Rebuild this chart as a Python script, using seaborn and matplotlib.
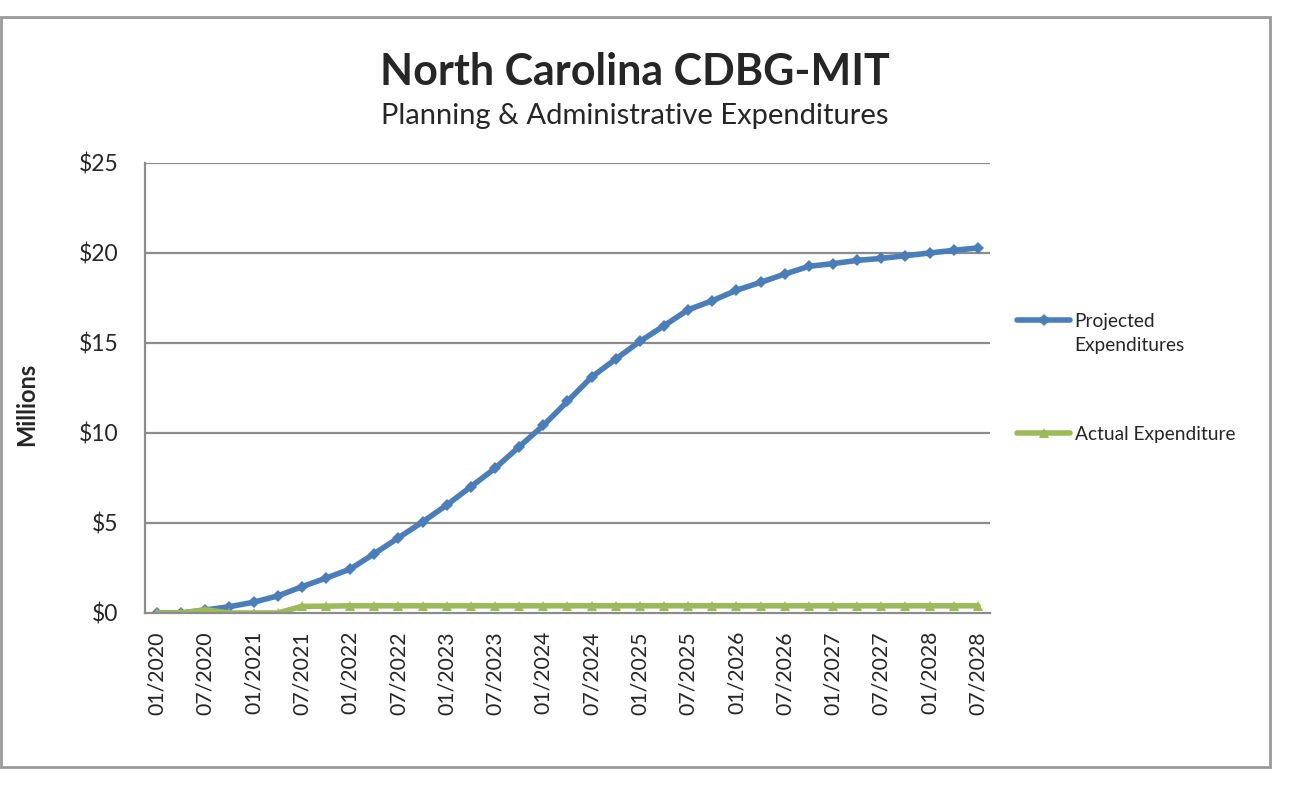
import numpy as np
import pandas as pd
import matplotlib.pyplot as plt
import matplotlib.patches as patches
import seaborn as sns

# quarterly reporting periods, 01/2020 .. 07/2028
quarters = pd.date_range('2020-01-01', periods=35, freq='QS').strftime('%m/%Y').tolist()

# cumulative expenditures, millions of dollars
projected = [0.0, 0.0, 0.17, 0.35, 0.6, 0.95, 1.46, 1.94, 2.44, 3.3,
             4.18, 5.06, 6.0, 7.02, 8.04, 9.24, 10.42, 11.76, 13.11, 14.11,
             15.09, 15.96, 16.85, 17.35, 17.93, 18.37, 18.83, 19.26, 19.41, 19.59,
             19.70, 19.85, 20.0, 20.15, 20.28]
actual = [0.0, 0.0, 0.18, 0.0, 0.0, 0.0, 0.37, 0.38, 0.4, 0.4,
          0.4, 0.4, 0.4, 0.4, 0.4, 0.4, 0.4, 0.4, 0.4, 0.4,
          0.4, 0.4, 0.4, 0.4, 0.4, 0.4, 0.4, 0.4, 0.4, 0.4,
          0.4, 0.4, 0.4, 0.4, 0.4]

proj_name = 'Projected\nExpenditures'
act_name = 'Actual Expenditure'

df = pd.DataFrame({
    'pos': list(range(len(quarters))) * 2,
    'value': projected + actual,
    'series': [proj_name] * len(projected) + [act_name] * len(actual),
})

sns.set_style('white')
plt.rcParams['font.family'] = ['Lato', 'DejaVu Sans']

fig = plt.figure(figsize=(12.97, 7.89), dpi=100)
ax = fig.add_axes([145 / 1297, 1 - 613 / 789, 845 / 1297, 450 / 789])

grid_c = '#8c8c8c'
for v in [5, 10, 15, 20, 25]:
    ax.axhline(v, color=grid_c, lw=1.6, zorder=0)

sns.lineplot(data=df, x='pos', y='value', hue='series', style='series',
             palette={proj_name: '#4a7ebb', act_name: '#9bbb59'},
             markers={proj_name: 'D', act_name: '^'}, dashes=False,
             lw=4, markersize=6.5, markeredgewidth=0, ax=ax, legend=True)

ax.set_xlim(-0.5, len(quarters) - 0.5)
ax.set_ylim(0, 25)
ax.set_yticks([0, 5, 10, 15, 20, 25])
ax.set_yticklabels(['$0', '$5', '$10', '$15', '$20', '$25'])
ax.set_xticks(range(0, len(quarters), 2))
ax.set_xticklabels(quarters[::2], rotation=90)
ax.tick_params(axis='y', length=0, pad=19, labelsize=16.5)
ax.tick_params(axis='x', length=0, pad=13, labelsize=15.3)
ax.set_xlabel('')
ax.set_ylabel('')
for side in ['top', 'right']:
    ax.spines[side].set_visible(False)
for side in ['left', 'bottom']:
    ax.spines[side].set_color(grid_c)
    ax.spines[side].set_linewidth(1.6)

# legend on the right, handle aligned with first text line
handles, labels = ax.get_legend_handles_labels()
ax.get_legend().remove()
leg = fig.legend(handles, labels, loc='upper left', bbox_to_anchor=(1000 / 1297, 1 - 296 / 789),
                 frameon=False, fontsize=13.8, handlelength=2.75, handletextpad=0.25,
                 labelspacing=3.8)
leg.get_texts()[0].set_linespacing(1.45)
for hp in leg._legend_handle_box.get_children()[0].get_children():
    hp.align = 'top'

fig.text(635 / 1297, 1 - 85 / 789, 'North Carolina CDBG-MIT', ha='center', va='baseline',
         fontsize=31, fontweight='bold')
fig.text(635 / 1297, 1 - 124 / 789, 'Planning & Administrative Expenditures', ha='center',
         va='baseline', fontsize=21)
fig.text(27 / 1297, 1 - 404 / 789, 'Millions', rotation=90, ha='center', va='center',
         fontsize=17, fontweight='bold')

# outer chart frame
fig.patches.append(patches.Rectangle((1 / 1297, 1 - 767 / 789), 1269 / 1297, 750 / 789,
                                     transform=fig.transFigure, fill=False,
                                     edgecolor='#999999', lw=2))

fig.savefig('out.png')
